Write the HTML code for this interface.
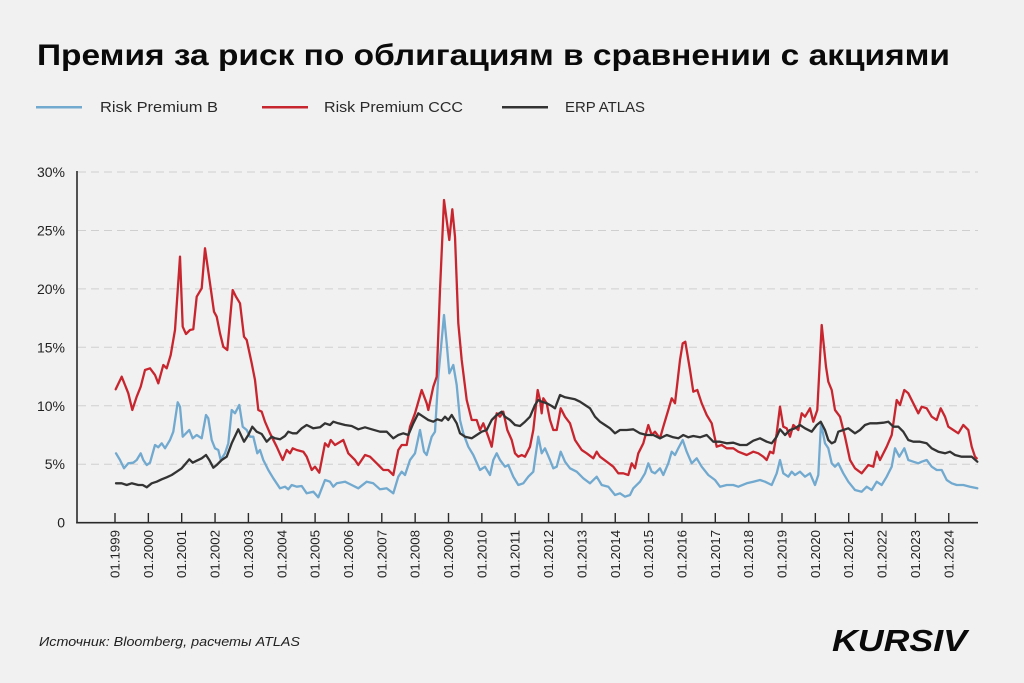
<!DOCTYPE html>
<html><head><meta charset="utf-8"><style>
html,body{margin:0;padding:0;background:#f1f1f1;}
svg{display:block;}
</style></head><body>
<svg width="1024" height="683" viewBox="0 0 1024 683" xmlns="http://www.w3.org/2000/svg">
<rect width="1024" height="683" fill="#f1f1f1"/>
<text x="37" y="65" font-family="Liberation Sans, sans-serif" font-weight="bold" font-size="30" fill="#0a0a0a" textLength="913" lengthAdjust="spacingAndGlyphs">Премия за риск по облигациям в сравнении с акциями</text>
<g font-family="Liberation Sans, sans-serif" font-size="14.5" fill="#2a2a2a">
<line x1="36" y1="107.3" x2="82" y2="107.3" stroke="#72a9cf" stroke-width="2.5"/>
<text x="100" y="112" textLength="118" lengthAdjust="spacingAndGlyphs">Risk Premium B</text>
<line x1="262" y1="107.3" x2="308" y2="107.3" stroke="#c8262f" stroke-width="2.5"/>
<text x="324" y="112" textLength="139" lengthAdjust="spacingAndGlyphs">Risk Premium CCC</text>
<line x1="502" y1="107.3" x2="548" y2="107.3" stroke="#333" stroke-width="2.5"/>
<text x="565" y="112" textLength="80" lengthAdjust="spacingAndGlyphs">ERP ATLAS</text>
</g>
<g stroke="#cfcfcf" stroke-width="1" stroke-dasharray="8,5">
<line x1="78" y1="172" x2="978" y2="172"/>
<line x1="78" y1="230.5" x2="978" y2="230.5"/>
<line x1="78" y1="288.9" x2="978" y2="288.9"/>
<line x1="78" y1="347.3" x2="978" y2="347.3"/>
<line x1="78" y1="405.8" x2="978" y2="405.8"/>
<line x1="78" y1="464.2" x2="978" y2="464.2"/>
</g>
<g font-family="Liberation Sans, sans-serif" font-size="14" fill="#222" text-anchor="end">
<text x="65" y="177">30%</text>
<text x="65" y="235.5">25%</text>
<text x="65" y="294">20%</text>
<text x="65" y="352.3">15%</text>
<text x="65" y="410.8">10%</text>
<text x="65" y="469.2">5%</text>
<text x="65" y="527.7">0</text>
</g>
<g fill="none" stroke-width="2.3" stroke-linejoin="round" stroke-linecap="round">
<polyline stroke="#72a9cf" points="116,453.3 120,460 124,468.3 128.3,463.3 133.3,462.7 136.7,460 140.7,453.3 143.3,460 146.7,465 150,462.7 155,445 158.3,447.3 161.7,443.3 165,448.3 170,440 173.3,431.7 177.7,402.3 180,406.7 182.7,436.7 186,433.3 189.3,430 192.7,438.3 196.7,435 201.7,438.3 206,415 208.3,418.3 211.7,440 215,448.3 218.3,450 220.7,460 225,453.3 228.3,443.3 231.7,410 235,413.3 239.3,405 242.7,426.7 246.7,430 250,436.7 253.3,436.7 257.3,453.3 260,450 263.3,460 268.3,470 273.3,478.3 280,488.3 285,486.7 288.3,489.3 291.7,485 296.7,486.7 301.7,486 306.7,493.3 313.3,491.7 318.3,497.3 325,480 330,481.7 333.3,486.7 336.7,483.3 345,481.7 351.7,485 358.3,488.3 366.7,481.7 373.3,483.3 380,489.3 386.7,488.3 393.3,493.3 398.3,476.7 401.7,471.7 405,475 410,460 415,453.3 420,430 424,451.7 426.7,455 431.7,436.7 435,431.7 438.3,376.7 444,315 446.7,343.3 449.3,373.3 453.3,365 456.7,385 460,420 463.3,433.3 468.3,446.7 473.3,455 480,470 485,466.7 490,475 493.3,460 496.7,453.3 500,460 505,466.7 508.3,465 513.3,476.7 518.3,485 523.3,483.3 528.3,476.7 533.3,471.7 538.3,436.7 541.7,453.3 545,448.3 550,460 553.3,468.3 556.7,466.7 560.7,451.7 565,461.7 570,468.3 576.7,471.7 583.3,478.3 590,483.3 596.7,476.7 601.7,485 608.3,486.7 615,495 620,493.3 625,496.7 630,495 633.3,488.3 640,481.7 645,473.3 648.3,463.3 651.7,471.7 655,473.3 660,468.3 663.3,475 668.3,463.3 671.7,451.7 675,455 678.3,448.3 682.7,440 686.7,451.7 691.7,463.3 696.7,458.3 701.7,466.7 708.3,475 715,480 720,486.7 726.7,485 733.3,485 738.3,486.7 746.7,483.3 753.3,481.7 760,480 765,481.7 771.7,485 776.7,473.3 780,460 783.3,473.3 788.3,476.7 791.7,471.7 795,475 800,471.7 805,476.7 810,473.3 815,485 818.3,475 821,423.3 825,443.3 828.3,448.3 831.7,463.3 835,466.7 838.3,463.3 843.3,473.3 848.3,481.7 855,490 861.7,491.7 866.7,486.7 871.7,490 876.7,481.7 881.7,485 886.7,476.7 891.7,466.7 895,448.3 899.3,456.7 904.3,448.3 908.3,460 913.3,461.7 918.3,463.3 921.7,461.7 926.7,460 931.7,466.7 936.7,470 941.7,470 946.7,480 951.7,483.3 956.7,485 963.3,485 970,486.7 977.3,488.3"/>
<polyline stroke="#c8262f" points="115.7,389.3 121.7,376.7 125,385 128.3,393.3 132.3,410 136.7,396.7 140.7,386.7 145,370 150,368.3 155,375 158.3,383.3 163.3,365 166.7,368.3 170.7,355 175,330 180,256.7 182.7,326.7 186,334 190,330 193.3,329.3 196.7,296.7 201.7,288.3 205,248.3 210,283.3 214,311.7 216.7,316.7 220,333.3 223.3,346.7 227.3,350 232.7,290 236,296.7 240,303.3 244,336.7 246.7,340 251.7,363.3 255,380 258.3,410 261.7,411.7 265,421.7 270,433.3 276.7,446.7 282.7,460 286.7,450 290,453.3 292.7,448.3 296.7,450 303.3,451.7 306.7,456.7 311.7,470 315,466.7 319.3,472.7 325,443.3 328.3,446.7 330.7,440 335,445 343.3,440 348.3,453.3 355,460 358.3,465 365,455 370,456.7 376.7,463.3 383.3,470 388.3,470 393.3,475 398.3,450 401.7,445 406.7,445 410,426.7 415,413.3 421.7,390 426.7,403.3 428.3,410 433.3,386.7 436.7,376.7 440,290 444,200 449.3,240 452.3,209.3 455,236.7 458.3,323.3 461.7,360 466.7,400 471.7,420 476.7,420 480,430 483.3,423.3 488.3,436.7 491.7,446.7 496.7,413.3 500,416.7 503.3,411.7 507.3,430 511.7,440 515,453.3 518.3,456.7 521.7,455 525,456.7 530,446.7 533.3,430 537.7,390 540,400 541.7,413.3 543.3,398.3 546.7,403.3 550,420 553.3,430 556.7,430 560.7,408.3 565,416.7 570,423.3 575,440 581.7,450 586.7,453.3 593.3,458.3 596.7,451.7 600,456.7 606.7,461.7 613.3,466.7 618.3,473.3 623.3,473.3 628.3,475 631.7,463.3 635,468.3 638.3,453.3 643.3,443.3 648.3,425 651.7,435 655,431.7 660,438.3 663.3,426.7 668.3,410 671.7,398.3 675,403.3 680,360 682.7,343.3 685.3,341.7 690,370 693.3,391.7 697.3,390 701.7,403.3 706.7,415 711.7,423.3 716.7,446.7 721.7,445 726.7,448.3 733.3,448.3 738.3,451.7 746.7,455 753.3,451.7 758.3,453.3 763.3,456.7 766.7,460 770,451.7 773.3,453.3 776.7,433.3 780,406.7 783.3,426.7 786.7,428.3 790,436.7 793.3,425 798.3,430 801.7,413.3 805,416.7 810,408.3 813.3,421.7 817.3,410 821.7,325 826,366.7 828.3,381.7 831.7,390 835,410 840,416.7 845,436.7 850,460 855,468.3 861.7,473.3 868.3,465 873.3,466.7 876.7,451.7 880,460 886.7,446.7 891.7,435 896.7,400 900,405 904.3,390 908.3,393.3 913.3,403.3 918.3,413.3 921.7,406.7 926.7,408.3 931.7,416.7 936.7,420 940.7,408.3 945,416.7 948.3,426.7 953.3,430 958.3,433.3 963.3,425 968.3,430 971.7,446.7 975,456.7 976.7,458.3"/>
<polyline stroke="#333333" points="116,483.3 121.7,483.3 126.7,485 131.7,483.3 138.3,485 142.7,485 146.7,487.3 151.7,483.3 156.7,481.7 161.7,479.3 166.7,477.3 171.7,475 176.7,471.7 181.7,468.3 186,463.3 189.3,459.3 192.7,462.7 196.7,460.7 201.7,458.3 206,455 209.3,460 213.3,467.7 216.7,465 221.7,460 226.7,456.7 231.7,443.3 238.3,429.3 241.7,436.7 244,441.7 248.3,435 252.3,426.7 256.7,431.7 261.7,434 266.7,441.7 271.7,436.7 275,438.3 280,439.3 285,436 288.3,431.7 292.7,433.3 296.7,433.3 301.7,428.3 306.7,425 313.3,428.3 320,427.3 325,423.3 330,425 333.3,421.7 338.3,423.3 345,425 351.7,426 358.3,429.3 365,427.3 371.7,429.3 380,431.7 386.7,431.7 393.3,438.3 398.3,435 403.3,433.3 408.3,435 413.3,423.3 418.3,413.3 423.3,416.7 428.3,420 433.3,421.7 437.3,419.3 441.7,420.7 445,416.7 448.3,420 451.7,415 456.7,423.3 460,433.3 465,436.7 471.7,438.3 476.7,435 481.7,431.7 486.7,430 491.7,420 496.7,415 501.7,411.7 505,416.7 510,420 515,425 520,426 525,421.7 530,416.7 535,405 538.3,400 541.7,401.7 546.7,403.3 551.7,406 555,408.3 560,395 565,397.3 570,398.3 575,399.3 580,401.7 585,405 590,408.3 595,416.7 600,421.7 605,425 610,428.3 615,433.3 620,430 626.7,430 633.3,429.3 640,433.3 646.7,435 653.3,435 660,438.3 666.7,435 673.3,437.3 678.3,438.3 683.3,435 688.3,437.3 693.3,436 700,437.3 706.7,435 713.3,441.7 720,441.7 726.7,443.3 733.3,442.7 740,445 746.7,445 753.3,440.7 760,438.3 766.7,441.7 771.7,443.3 776.7,436.7 780,429.3 785,435 790,430 795,428.3 800,425 805,428.3 811.7,431.7 816.7,425 820.7,421.7 825,430 828.3,440 831.7,443.3 835,441.7 838.3,431.7 843.3,430 848.3,428.3 855,433.3 860,430 865,425 870,423.3 876.7,423.3 883.3,422.7 888.3,421.7 893.3,426.7 898.3,426.7 903.3,431.7 908.3,440 913.3,441.7 920,441.7 926.7,443.3 931.7,448.3 938.3,451.7 945,453.3 950,451.7 955,455 961.7,456.7 966.7,456.7 971.7,456.7 977.3,461.7"/>
</g>
<g stroke="#2a2a2a" stroke-width="1.6">
<line x1="77" y1="171" x2="77" y2="523.5"/>
<line x1="76.2" y1="522.7" x2="978" y2="522.7"/>
</g>
<g stroke="#2a2a2a" stroke-width="1.4" id="ticks">
<line x1="115" y1="513" x2="115" y2="522.7"/><line x1="148.35" y1="513" x2="148.35" y2="522.7"/><line x1="181.7" y1="513" x2="181.7" y2="522.7"/><line x1="215.05" y1="513" x2="215.05" y2="522.7"/><line x1="248.4" y1="513" x2="248.4" y2="522.7"/><line x1="281.75" y1="513" x2="281.75" y2="522.7"/><line x1="315.1" y1="513" x2="315.1" y2="522.7"/><line x1="348.45" y1="513" x2="348.45" y2="522.7"/><line x1="381.8" y1="513" x2="381.8" y2="522.7"/><line x1="415.15" y1="513" x2="415.15" y2="522.7"/><line x1="448.5" y1="513" x2="448.5" y2="522.7"/><line x1="481.85" y1="513" x2="481.85" y2="522.7"/><line x1="515.2" y1="513" x2="515.2" y2="522.7"/><line x1="548.55" y1="513" x2="548.55" y2="522.7"/><line x1="581.9" y1="513" x2="581.9" y2="522.7"/><line x1="615.25" y1="513" x2="615.25" y2="522.7"/><line x1="648.6" y1="513" x2="648.6" y2="522.7"/><line x1="681.95" y1="513" x2="681.95" y2="522.7"/><line x1="715.3" y1="513" x2="715.3" y2="522.7"/><line x1="748.65" y1="513" x2="748.65" y2="522.7"/><line x1="782" y1="513" x2="782" y2="522.7"/><line x1="815.35" y1="513" x2="815.35" y2="522.7"/><line x1="848.7" y1="513" x2="848.7" y2="522.7"/><line x1="882.05" y1="513" x2="882.05" y2="522.7"/><line x1="915.4" y1="513" x2="915.4" y2="522.7"/><line x1="948.75" y1="513" x2="948.75" y2="522.7"/>
</g>
<g font-family="Liberation Sans, sans-serif" font-size="12.5" fill="#222" text-anchor="end">
<text transform="translate(119.5,530) rotate(-90)" textLength="48" lengthAdjust="spacingAndGlyphs">01.1999</text>
<text transform="translate(152.85,530) rotate(-90)" textLength="48" lengthAdjust="spacingAndGlyphs">01.2000</text>
<text transform="translate(186.2,530) rotate(-90)" textLength="48" lengthAdjust="spacingAndGlyphs">01.2001</text>
<text transform="translate(219.55,530) rotate(-90)" textLength="48" lengthAdjust="spacingAndGlyphs">01.2002</text>
<text transform="translate(252.9,530) rotate(-90)" textLength="48" lengthAdjust="spacingAndGlyphs">01.2003</text>
<text transform="translate(286.25,530) rotate(-90)" textLength="48" lengthAdjust="spacingAndGlyphs">01.2004</text>
<text transform="translate(319.6,530) rotate(-90)" textLength="48" lengthAdjust="spacingAndGlyphs">01.2005</text>
<text transform="translate(352.95,530) rotate(-90)" textLength="48" lengthAdjust="spacingAndGlyphs">01.2006</text>
<text transform="translate(386.3,530) rotate(-90)" textLength="48" lengthAdjust="spacingAndGlyphs">01.2007</text>
<text transform="translate(419.65,530) rotate(-90)" textLength="48" lengthAdjust="spacingAndGlyphs">01.2008</text>
<text transform="translate(453,530) rotate(-90)" textLength="48" lengthAdjust="spacingAndGlyphs">01.2009</text>
<text transform="translate(486.35,530) rotate(-90)" textLength="48" lengthAdjust="spacingAndGlyphs">01.2010</text>
<text transform="translate(519.7,530) rotate(-90)" textLength="48" lengthAdjust="spacingAndGlyphs">01.2011</text>
<text transform="translate(553.05,530) rotate(-90)" textLength="48" lengthAdjust="spacingAndGlyphs">01.2012</text>
<text transform="translate(586.4,530) rotate(-90)" textLength="48" lengthAdjust="spacingAndGlyphs">01.2013</text>
<text transform="translate(619.75,530) rotate(-90)" textLength="48" lengthAdjust="spacingAndGlyphs">01.2014</text>
<text transform="translate(653.1,530) rotate(-90)" textLength="48" lengthAdjust="spacingAndGlyphs">01.2015</text>
<text transform="translate(686.45,530) rotate(-90)" textLength="48" lengthAdjust="spacingAndGlyphs">01.2016</text>
<text transform="translate(719.8,530) rotate(-90)" textLength="48" lengthAdjust="spacingAndGlyphs">01.2017</text>
<text transform="translate(753.15,530) rotate(-90)" textLength="48" lengthAdjust="spacingAndGlyphs">01.2018</text>
<text transform="translate(786.5,530) rotate(-90)" textLength="48" lengthAdjust="spacingAndGlyphs">01.2019</text>
<text transform="translate(819.85,530) rotate(-90)" textLength="48" lengthAdjust="spacingAndGlyphs">01.2020</text>
<text transform="translate(853.2,530) rotate(-90)" textLength="48" lengthAdjust="spacingAndGlyphs">01.2021</text>
<text transform="translate(886.55,530) rotate(-90)" textLength="48" lengthAdjust="spacingAndGlyphs">01.2022</text>
<text transform="translate(919.9,530) rotate(-90)" textLength="48" lengthAdjust="spacingAndGlyphs">01.2023</text>
<text transform="translate(953.25,530) rotate(-90)" textLength="48" lengthAdjust="spacingAndGlyphs">01.2024</text>
</g>
<text x="39" y="646" font-family="Liberation Sans, sans-serif" font-style="italic" font-size="13" fill="#222" textLength="261" lengthAdjust="spacingAndGlyphs">Источник: Bloomberg, расчеты ATLAS</text>
<text x="832" y="651" font-family="Liberation Sans, sans-serif" font-style="italic" font-weight="bold" font-size="31" fill="#0a0a0a" textLength="135" lengthAdjust="spacingAndGlyphs">KURSIV</text>
</svg>
</body></html>
